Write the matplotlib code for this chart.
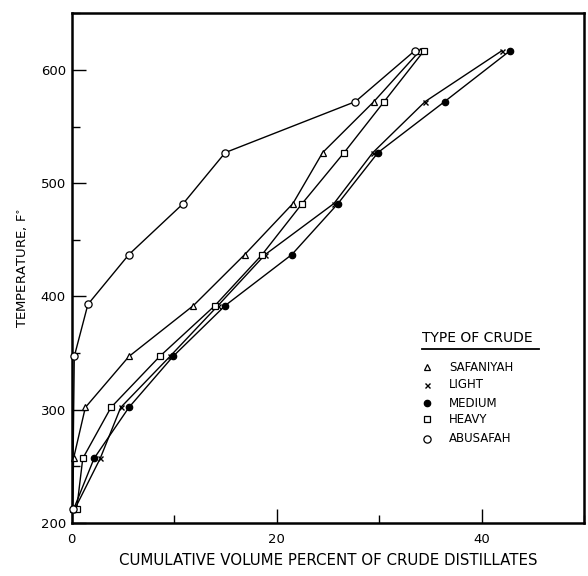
import matplotlib
matplotlib.use("Agg")
import matplotlib.pyplot as plt
from matplotlib.ticker import MultipleLocator

# Cut-point temperatures (deg F) of the distillation runs
temps = [212, 257, 302, 347, 392, 437, 482, 527, 572, 617]

# Cumulative volume percent distilled at each cut point
safaniyah = [0.1, 0.2, 1.35, 5.6, 11.9, 16.9, 21.6, 24.5, 29.5, 34.0]
light = [0.3, 2.8, 4.8, 9.6, 14.3, 18.9, 25.6, 29.4, 34.5, 42.0]
medium = [0.2, 2.2, 5.6, 9.9, 15.0, 21.5, 26.0, 29.9, 36.4, 42.8]
heavy = [0.5, 1.1, 3.85, 8.6, 14.0, 18.6, 22.5, 26.6, 30.5, 34.4]

abusafah_temps = [212, 347, 393, 437, 482, 527, 572, 617]
abusafah = [0.1, 0.27, 1.6, 5.6, 10.9, 15.0, 27.7, 33.5]

series_names = ["SAFANIYAH", "LIGHT", "MEDIUM", "HEAVY", "ABUSAFAH"]

x_major = [0, 20, 40]
y_major = [200, 300, 400, 500, 600]

plt.rcParams["font.family"] = ["DejaVu Sans"]

fig = plt.figure(figsize=(5.88, 5.76), dpi=100)
ax = fig.add_axes([0.1216, 0.092, 0.8716, 0.885])

styles = {
    "SAFANIYAH": dict(marker="^", ms=4.6, mfc="white", mec="black", mew=0.9),
    "LIGHT": dict(marker="x", ms=3.6, mec="black", mew=1.0),
    "MEDIUM": dict(marker="o", ms=4.6, mfc="black", mec="black", mew=0.9),
    "HEAVY": dict(marker="s", ms=4.0, mfc="white", mec="black", mew=0.9),
    "ABUSAFAH": dict(marker="o", ms=5.2, mfc="white", mec="black", mew=0.9),
}

data = {
    "SAFANIYAH": (safaniyah, temps),
    "LIGHT": (light, temps),
    "MEDIUM": (medium, temps),
    "HEAVY": (heavy, temps),
    "ABUSAFAH": (abusafah, abusafah_temps),
}

for name in series_names:
    xs, ys = data[name]
    ax.plot(xs, ys, color="black", lw=1.0, clip_on=False, zorder=3, **styles[name])

ax.set_xlim(0, 50)
ax.set_ylim(200, 650)

ax.xaxis.set_minor_locator(MultipleLocator(10))
ax.yaxis.set_minor_locator(MultipleLocator(50))
ax.set_xticks(x_major)
ax.set_yticks(y_major)
ax.tick_params(which="major", direction="in", length=10, width=1.0, labelsize=9.5, pad=4)
ax.tick_params(which="minor", direction="in", length=6, width=1.0)
ax.tick_params(axis="x", pad=7)

for sp in ax.spines.values():
    sp.set_linewidth(1.8)

ax.set_xlabel("CUMULATIVE VOLUME PERCENT OF CRUDE DISTILLATES", fontsize=10.8, labelpad=5)
ax.set_ylabel("TEMPERATURE, F$^{\\circ}$", fontsize=9.5, labelpad=8)

# Legend block
ax.text(0.684, 0.363, "TYPE OF CRUDE", transform=ax.transAxes, fontsize=10,
        ha="left", va="center")
ax.plot([0.684, 0.912], [0.341, 0.341], transform=ax.transAxes, color="black",
        lw=1.3, clip_on=False)
rows = [0.306, 0.271, 0.235, 0.204, 0.165]
for name, ry in zip(series_names, rows):
    st = dict(styles[name])
    ax.plot([0.694], [ry], transform=ax.transAxes, linestyle="none",
            clip_on=False, **st)
    ax.text(0.737, ry, name, transform=ax.transAxes, fontsize=8.5,
            ha="left", va="center")

fig.savefig("out.png", dpi=100)
